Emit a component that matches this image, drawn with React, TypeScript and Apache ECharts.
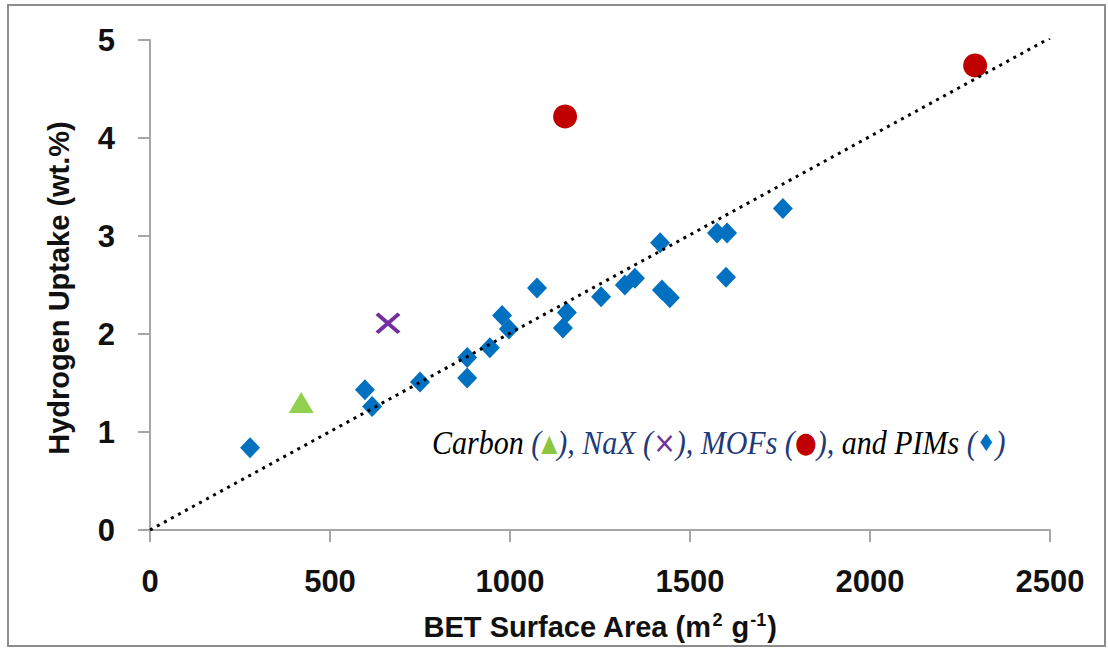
import React, { useEffect, useRef } from "react";
import * as echarts from "echarts";

const pimX = [278, 597, 617, 750, 881, 881, 944, 978, 997, 1075, 1147, 1158, 1253, 1319, 1347, 1417, 1422, 1444, 1575, 1603, 1600, 1758];
const pimY = [0.84, 1.43, 1.26, 1.51, 1.76, 1.55, 1.86, 2.19, 2.05, 2.47, 2.06, 2.22, 2.38, 2.5, 2.57, 2.93, 2.45, 2.37, 3.03, 3.03, 2.58, 3.28];
const mofX = [1153, 2292];
const mofY = [4.22, 4.74];
const naxX = [661];
const naxY = [2.11];
const carbonX = [420];
const carbonY = [1.3];
const trendX = [0, 2500];
const trendY = [0, 5.02];

const xTicks = { min: 0, max: 2500, interval: 500 };
const yTicks = { min: 0, max: 5, interval: 1 };

const xTitle = "BET Surface Area";
const yTitle = "Hydrogen Uptake (wt.%)";

const zip = (xs: number[], ys: number[]) => xs.map((x, i) => [x, ys[i]]);

export default function App() {
  const ref = useRef<HTMLDivElement>(null);
  useEffect(() => {
    if (!ref.current) return;
    const chart = echarts.init(ref.current, undefined, { renderer: "svg" });
    const axisColor = "#a6a6a6";
    const labelFont = {
      fontFamily: "Liberation Sans, Arial, sans-serif",
      fontWeight: "bold" as const,
      fontSize: 31,
      color: "#111",
    };
    const navy = "#1f3a78";
    chart.setOption({
      animation: false,
      backgroundColor: "#fff",
      grid: { left: 150, right: 58, top: 40, bottom: 120, containLabel: false },
      xAxis: {
        type: "value",
        ...xTicks,
        axisLine: { show: true, lineStyle: { color: axisColor, width: 2 } },
        axisTick: { show: true, length: 12, lineStyle: { color: axisColor, width: 2 } },
        splitLine: { show: false },
        axisLabel: { ...labelFont, margin: 36, formatter: (v: number) => String(v) },
      },
      yAxis: {
        type: "value",
        ...yTicks,
        axisLine: { show: true, lineStyle: { color: axisColor, width: 2 } },
        axisTick: { show: true, length: 12, lineStyle: { color: axisColor, width: 2 } },
        splitLine: { show: false },
        axisLabel: { ...labelFont, margin: 35, formatter: (v: number) => String(v) },
      },
      series: [
        {
          name: "PIMs",
          type: "scatter",
          data: zip(pimX, pimY),
          symbol: "diamond",
          symbolSize: [20, 21],
          itemStyle: { color: "#0070c0", opacity: 1 },
          z: 2,
        },
        {
          name: "MOFs",
          type: "scatter",
          data: zip(mofX, mofY),
          symbol: "circle",
          symbolSize: 24,
          itemStyle: { color: "#c00000", opacity: 1 },
          z: 2,
        },
        {
          name: "Carbon",
          type: "scatter",
          data: zip(carbonX, carbonY),
          symbol: "triangle",
          symbolSize: [25, 21],
          itemStyle: { color: "#92d050", opacity: 1 },
          z: 2,
        },
        {
          name: "NaX",
          type: "scatter",
          data: zip(naxX, naxY),
          symbol: "path://M0 0L10 10M10 0L0 10",
          symbolSize: [22, 19],
          itemStyle: { color: "none", borderColor: "#7030a0", borderWidth: 4, opacity: 1 },
          z: 2,
        },
        {
          name: "Trend",
          type: "line",
          data: zip(trendX, trendY),
          symbol: "none",
          lineStyle: { color: "#000", width: 3, type: [3, 5] },
          z: 3,
        },
      ],
      graphic: [
        {
          type: "rect",
          shape: { x: 8, y: 5, width: 1097, height: 641 },
          style: { fill: "none", stroke: "#8c8c8c", lineWidth: 2 },
          silent: true,
        },
        {
          type: "text",
          x: 600,
          y: 627,
          style: {
            text: "{t|" + xTitle + " (m}{s|2}{t| g}{s|-1}{t|)}",
            align: "center",
            verticalAlign: "middle",
            rich: {
              t: { fontFamily: "Liberation Sans, Arial, sans-serif", fontWeight: "bold", fontSize: 29, fill: "#111", lineHeight: 34 },
              s: { fontFamily: "Liberation Sans, Arial, sans-serif", fontWeight: "bold", fontSize: 18, fill: "#111", lineHeight: 34, padding: [0, 1, 14, 1] },
            },
          },
        },
        {
          type: "text",
          x: 59,
          y: 288,
          rotation: Math.PI / 2,
          style: {
            text: yTitle,
            align: "center",
            verticalAlign: "middle",
            fontFamily: "Liberation Sans, Arial, sans-serif",
            fontWeight: "bold",
            fontSize: 29,
            fill: "#111",
          },
        },
        {
          type: "text",
          x: 432,
          y: 442,
          scaleY: 1.14,
          style: {
            text:
              "{k|Carbon }{n|(}{g|▲}{n|), NaX (}{p|×}{n|), MOFs (}{r|●}{n|),}{k| and PIMs }{n|(}{b|♦}{n|)}",
            align: "left",
            verticalAlign: "middle",
            rich: {
              k: { fontFamily: "Liberation Serif, Times New Roman, serif", fontStyle: "italic", fontSize: 30, fill: "#000" },
              n: { fontFamily: "Liberation Serif, Times New Roman, serif", fontStyle: "italic", fontSize: 30, fill: navy },
              g: { fontFamily: "DejaVu Sans, sans-serif", fontSize: 21, fill: "#8cc63f" },
              p: { fontFamily: "DejaVu Sans, sans-serif", fontSize: 27, fill: "#7030a0" },
              r: { fontFamily: "DejaVu Sans, sans-serif", fontSize: 25, fill: "#c00000" },
              b: { fontFamily: "DejaVu Sans, sans-serif", fontSize: 21, fill: "#0070c0" },
            },
          },
        },
      ],
    });
    return () => chart.dispose();
  }, []);
  return (
    <div style={{ position: "absolute", left: 0, top: 0, width: 1108, height: 650, background: "#fff" }}>
      <div ref={ref} style={{ width: 1108, height: 650 }} />
    </div>
  );
}
